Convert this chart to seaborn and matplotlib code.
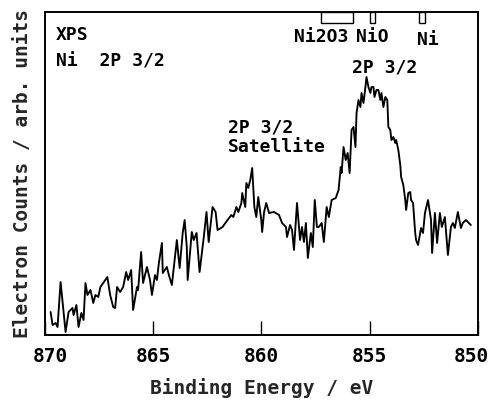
import matplotlib
matplotlib.use("Agg")
import matplotlib.pyplot as plt
import matplotlib.patches as mpatches
import matplotlib.transforms as mtransforms
import seaborn as sns
import pandas as pd

# ---- data ----
binding_energy = [
    869.74, 869.65, 869.51, 869.42, 869.28, 869.05, 868.91, 868.73, 868.68, 868.55,
    868.45, 868.32, 868.22, 868.13, 868.04, 867.90, 867.77, 867.67, 867.54, 867.44,
    867.31, 867.12, 866.99, 866.85, 866.76, 866.67, 866.53, 866.39, 866.25, 866.16,
    866.02, 865.93, 865.75, 865.70, 865.56, 865.47, 865.29, 865.15, 865.06, 864.92,
    864.83, 864.74, 864.60, 864.56, 864.37, 864.28, 864.14, 864.05, 863.91, 863.78,
    863.64, 863.55, 863.45, 863.41, 863.22, 863.13, 863.00, 862.86, 862.67, 862.54,
    862.44, 862.26, 862.12, 862.03, 861.80, 861.57, 861.39, 861.30, 861.16, 861.07,
    860.93, 860.89, 860.75, 860.70, 860.61, 860.52, 860.43, 860.38, 860.33, 860.24,
    860.15, 860.01, 859.97, 859.88, 859.78, 859.65, 859.42, 859.19, 859.05, 858.87,
    858.82, 858.68, 858.59, 858.50, 858.36, 858.22, 858.13, 858.04, 857.95, 857.86,
    857.72, 857.63, 857.54, 857.44, 857.35, 857.22, 857.12, 856.99, 856.89, 856.76,
    856.57, 856.44, 856.34, 856.30, 856.21, 856.11, 856.02, 855.93, 855.84, 855.75,
    855.66, 855.61, 855.52, 855.43, 855.38, 855.29, 855.20, 855.15, 855.06, 854.97,
    854.92, 854.83, 854.78, 854.69, 854.60, 854.51, 854.46, 854.37, 854.28, 854.19,
    854.14, 854.05, 854.00, 853.91, 853.82, 853.78, 853.68, 853.59, 853.55, 853.45,
    853.36, 853.32, 853.22, 853.13, 853.09, 853.00, 852.90, 852.86, 852.77, 852.63,
    852.54, 852.45, 852.31, 852.17, 852.12, 851.99, 851.89, 851.76, 851.67, 851.53,
    851.39, 851.25, 851.16, 851.07, 850.93, 850.79, 850.70, 850.56, 850.47, 850.33,
]
electron_counts = [
    23, 10, 12, 8, 53, 3, 23, 27, 20, 30,
    8, 22, 15, 52, 40, 45, 32, 40, 38, 48,
    52, 58, 40, 28, 27, 48, 43, 48, 63, 55,
    65, 25, 48, 45, 83, 52, 68, 55, 40, 60,
    55, 72, 92, 62, 68, 60, 50, 68, 95, 67,
    102, 115, 88, 55, 103, 95, 102, 63, 97, 123,
    93, 128, 123, 105, 108, 115, 120, 118, 128, 123,
    132, 142, 128, 152, 147, 155, 167, 148, 128, 118,
    138, 115, 103, 123, 132, 122, 123, 120, 112, 108,
    98, 110, 105, 85, 132, 95, 108, 93, 112, 77,
    102, 88, 135, 108, 108, 112, 93, 128, 118, 135,
    137, 145, 168, 162, 188, 175, 182, 162, 205, 208,
    188, 222, 235, 228, 242, 232, 248, 258, 248, 242,
    248, 248, 238, 245, 245, 235, 242, 228, 238, 235,
    208, 205, 195, 198, 192, 195, 185, 170, 158, 150,
    135, 125, 142, 143, 135, 132, 102, 95, 90, 107,
    102, 122, 135, 115, 82, 122, 92, 122, 108, 118,
    80, 108, 112, 107, 123, 107, 112, 115, 113, 110,
]

x_ticks = [870, 865, 860, 855, 850]

# reference binding-energy ranges marked at the top of the plot
ref_labels = ["Ni2O3", "NiO", "Ni"]
ref_low = [855.79, 854.78, 852.45]
ref_high = [857.26, 854.97, 852.72]

df = pd.DataFrame({"energy": binding_energy, "counts": electron_counts})

# ---- style ----
sns.set_theme(style="white")
plt.rcParams["font.family"] = ["DejaVu Sans Mono", "DejaVu Sans"]
plt.rcParams["font.weight"] = "bold"

fig = plt.figure(figsize=(4.93, 4.01), dpi=100)
ax = fig.add_axes([45 / 493, 66 / 401, 433 / 493, 323 / 401])

sns.lineplot(data=df, x="energy", y="counts", ax=ax, color="black",
             linewidth=1.35, estimator=None)

ax.set_xlim(870, 850.15)
ax.set_ylim(0, 323)
ax.set_xticks(x_ticks)
ax.set_xticklabels([str(t) for t in x_ticks], fontsize=14, fontweight="bold")
ax.set_yticks([])
ax.tick_params(axis="x", direction="in", length=10, width=1.0, pad=9,
               bottom=True, colors="black")
for s in ax.spines.values():
    s.set_color("black")
    s.set_linewidth(1.4)

# nudge the end tick labels inward, as in the reference
labels = ax.get_xticklabels()
shift_first = mtransforms.ScaledTranslation(5 / 100, 0, fig.dpi_scale_trans)
shift_last = mtransforms.ScaledTranslation(-7 / 100, 0, fig.dpi_scale_trans)
labels[0].set_transform(labels[0].get_transform() + shift_first)
labels[-1].set_transform(labels[-1].get_transform() + shift_last)

ax.set_xlabel("Binding Energy / eV", fontsize=14, fontweight="bold", labelpad=8)
ax.set_ylabel("Electron Counts / arb. units", fontsize=14, fontweight="bold",
              labelpad=9)

# annotations
txt_kw = dict(fontsize=13, fontweight="bold", color="black")
ax.text(869.51, 300, "XPS", ha="left", va="center", **txt_kw)
ax.text(869.51, 274, "Ni  2P 3/2", ha="left", va="center", **txt_kw)
ax.text(861.57, 208, "2P 3/2", ha="left", va="center", **txt_kw)
ax.text(861.57, 188, "Satellite", ha="left", va="center", **txt_kw)
ax.text(855.84, 268, "2P 3/2", ha="left", va="center", **txt_kw)

label_x = [857.22, 854.88, 852.31]
label_y = [298, 298, 295]
for lab, lo, hi, lx, ly in zip(ref_labels, ref_low, ref_high, label_x, label_y):
    rect = mpatches.Rectangle((lo, 312), hi - lo, 11, fill=False,
                              edgecolor="black", linewidth=1.0, clip_on=False)
    ax.add_patch(rect)
    ax.text(lx, ly, lab, ha="center", va="center", **txt_kw)

fig.savefig("out.png", dpi=100)
